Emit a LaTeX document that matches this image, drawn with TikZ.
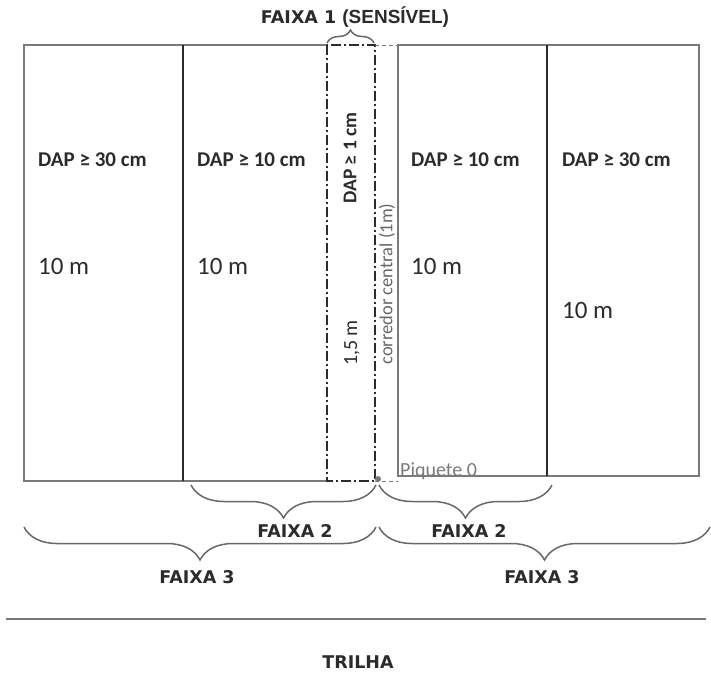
\documentclass[tikz,border=0pt]{standalone}
\usepackage{fontspec}
\setmainfont{Carlito}
\newfontfamily\heavyfont{DejaVu Sans}
\newfontfamily\arialfont{Liberation Sans}
\usetikzlibrary{decorations.pathreplacing, positioning}
\definecolor{edgegray}{HTML}{7A7A7A}
\definecolor{inkgray}{HTML}{2B2B2B}
\definecolor{softgray}{HTML}{666666}
\tikzset{
  outline/.style   = {draw=edgegray, line width=1.4pt},
  divider/.style   = {draw=inkgray, line width=1.5pt},
  sensitive/.style = {draw=inkgray, line width=1.4pt,
                      dash pattern=on 10pt off 3pt on 2pt off 3pt},
  gapline/.style   = {draw=edgegray, line width=1pt, dash pattern=on 4pt off 3pt},
  dap/.style       = {anchor=west, inner sep=0pt, text=inkgray,
                      font=\bfseries\fontsize{21}{21}\selectfont},
  meas/.style      = {anchor=west, inner sep=0pt, text=inkgray,
                      font=\fontsize{25}{25}\selectfont},
  faixa/.style     = {inner sep=0pt, text=inkgray,
                      font=\heavyfont\bfseries\fontsize{17.5}{17.5}\selectfont},
  brc/.style       = {draw=edgegray!85!black, line width=1.5pt, decorate,
                      decoration={brace, amplitude=#1}},
}

\begin{document}
\begin{tikzpicture}[x=1pt, y=-1pt]
  \useasboundingbox (0,0) rectangle (711,672);

  % ── plot corners ───────────────────────────────────────────────────────────
  \coordinate (lnw) at (24,45);   \coordinate (lsw) at (24,481);
  \coordinate (snw) at (327,45);  \coordinate (ssw) at (327,481);
  \coordinate (sne) at (375,45);  \coordinate (sse) at (375,481);
  \coordinate (rnw) at (398,45);  \coordinate (rsw) at (398,481);
  \coordinate (rse) at (699,476);

  % ── left half, sensitive strip, right half ─────────────────────────────────
  \draw[outline] (snw) -- (lnw) -- (lsw) -- (ssw);
  \draw[divider] (183,45) -- (183,481);
  \draw[sensitive] (snw) rectangle (sse);
  \draw[gapline] (sne) -- (rnw);
  \draw[gapline] (sse) -- (rsw);
  \draw[outline] (rnw) rectangle (rse);
  \draw[divider] (547,45) -- (547,476);
  \fill[edgegray] (378,479) circle (3pt);

  % ── labels inside the plot ─────────────────────────────────────────────────
  \node[dap]  (dapA) at (38,160)  {DAP ≥ 30 cm};
  \node[dap]  (dapB) at (197,160) {DAP ≥ 10 cm};
  \node[dap]  (dapC) at (411,160) {DAP ≥ 10 cm};
  \node[dap]  (dapD) at (562,160) {DAP ≥ 30 cm};
  \node[meas] (lenA) at (38,266)  {10 m};
  \node[meas] (lenB) at (197,266) {10 m};
  \node[meas] (lenC) at (411,266) {10 m};
  \node[meas] (lenD) at (562,310) {10 m};
  \node[dap, anchor=center, rotate=90, font=\bfseries\fontsize{19.5}{19.5}\selectfont]
       (dapS) at (350,158) {DAP ≥ 1 cm};
  \node[meas, anchor=center, rotate=90, font=\fontsize{20}{20}\selectfont]
       (lenS) at (352,343) {1,5 m};
  \node[inner sep=0pt, rotate=90, text=softgray, font=\fontsize{18.5}{18.5}\selectfont]
       (corr) at (387,284) {corredor central (1m)};
  \node[anchor=base west, inner sep=0pt, text=edgegray,
        font=\fontsize{20}{20}\selectfont] (piq) at (400,476) {Piquete 0};

  % ── braces and strip names ─────────────────────────────────────────────────
  \draw[brc=13] (327,43) -- (374,43);
  \node[faixa] (f1) at (355,17)
       {FAIXA 1 {\arialfont\fontsize{19}{19}\selectfont(SENSÍVEL)}};
  \draw[brc=33] (376,485) -- (191,485);
  \draw[brc=33] (552,485) -- (379,485);
  \node[faixa] (f2a) at (295,531) {FAIXA 2};
  \node[faixa] (f2b) at (469,531) {FAIXA 2};
  \draw[brc=33] (376,527) -- (24,527);
  \draw[brc=33] (710,527) -- (379,527);
  \node[faixa] (f3a) at (197,577) {FAIXA 3};
  \node[faixa] (f3b) at (542,577) {FAIXA 3};

  % ── trail ──────────────────────────────────────────────────────────────────
  \coordinate (tw) at (6,619);
  \coordinate (te) at (706,619);
  \draw[outline] (tw) -- (te);
  \node[faixa] (trail) at (358,662) {TRILHA};
\end{tikzpicture}
\end{document}
